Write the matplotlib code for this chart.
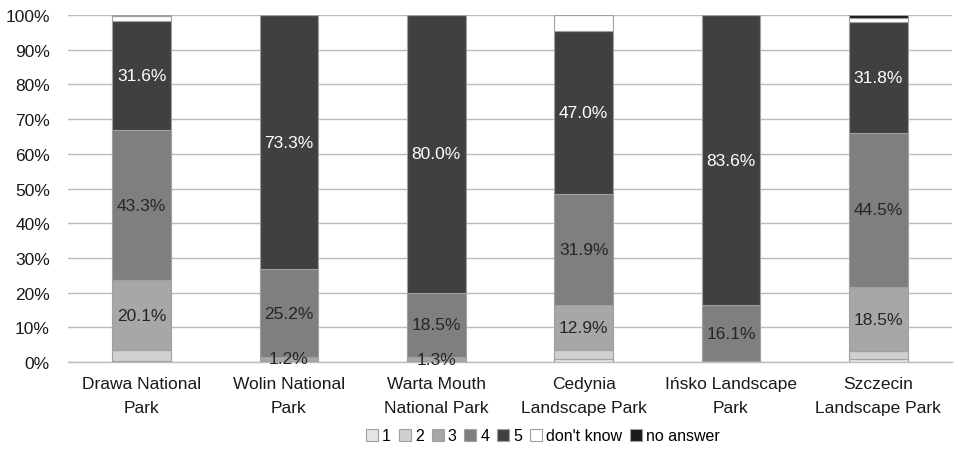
import matplotlib
matplotlib.use("Agg")
import matplotlib.pyplot as plt
import numpy as np

plt.rcParams['font.family'] = ['Liberation Sans', 'DejaVu Sans']

categories = ["Drawa National\nPark", "Wolin National\nPark", "Warta Mouth\nNational Park",
              "Cedynia\nLandscape Park", "Ińsko Landscape\nPark", "Szczecin\nLandscape Park"]
series_names = ["1", "2", "3", "4", "5", "don't know", "no answer"]
s1 = [0.3, 0.0, 0.0, 1.0, 0.0, 0.8]
s2 = [3.1, 0.3, 0.2, 2.5, 0.0, 2.3]
s3 = [20.1, 1.2, 1.3, 12.9, 0.3, 18.5]
s4 = [43.3, 25.2, 18.5, 31.9, 16.1, 44.5]
s5 = [31.6, 73.3, 80.0, 47.0, 83.6, 31.8]
s_dk = [1.2, 0.0, 0.0, 4.7, 0.0, 1.2]
s_na = [0.4, 0.0, 0.0, 0.0, 0.0, 0.9]
series = [s1, s2, s3, s4, s5, s_dk, s_na]
colors = ["#e4e4e6", "#d0d0d2", "#a7a7aa", "#7f7f80", "#404040", "#ffffff", "#1a1a1a"]
label_series = {2: "#262626", 3: "#262626", 4: "#ffffff"}

fig = plt.figure(figsize=(9.58, 4.77), dpi=100)
ax = fig.add_axes([68/958, 1-363/477, (952-68)/958, (363-16)/477])

x = np.arange(len(categories))
bottom = np.zeros(len(categories))
handles = []
for i, (vals, c) in enumerate(zip(series, colors)):
    vals = np.array(vals)
    b = ax.bar(x, vals, 0.40, bottom=bottom, color=c, edgecolor="#a0a0a0",
               linewidth=0.8, label=series_names[i], zorder=3)
    handles.append(b)
    if i in label_series:
        for j, v in enumerate(vals):
            if v >= 1.0:
                ax.text(x[j], bottom[j] + v/2, f"{v:.1f}%", ha="center", va="center",
                        fontsize=12.5, color=label_series[i], zorder=5)
    bottom += vals

ax.set_xlim(-0.5, 5.5)
ax.set_ylim(0, 100)
ax.set_yticks(np.arange(0, 101, 10))
ax.set_yticklabels([f"{v}%" for v in range(0, 101, 10)], fontsize=12.5, color="#1a1a1a")
ax.set_xticks(x)
ax.set_xticklabels(categories, fontsize=12.5, color="#1a1a1a", linespacing=1.75)
ax.tick_params(axis="both", length=0)
ax.tick_params(axis="y", pad=13)
ax.tick_params(axis="x", pad=10)
ax.grid(axis="y", color="#bcbcbc", linewidth=1.0, zorder=0)
for s in ["left", "right", "top"]:
    ax.spines[s].set_visible(False)
ax.spines["bottom"].set_color("#bcbcbc")
ax.spines["bottom"].set_linewidth(1.0)

leg = fig.legend(handles=handles, labels=series_names, loc="center", bbox_to_anchor=(543/958, 1-437/477),
                 ncol=7, frameon=False, fontsize=11.5, handlelength=0.75, handleheight=0.75,
                 handletextpad=0.25, columnspacing=0.5)

fig.savefig("out.png", dpi=100)
